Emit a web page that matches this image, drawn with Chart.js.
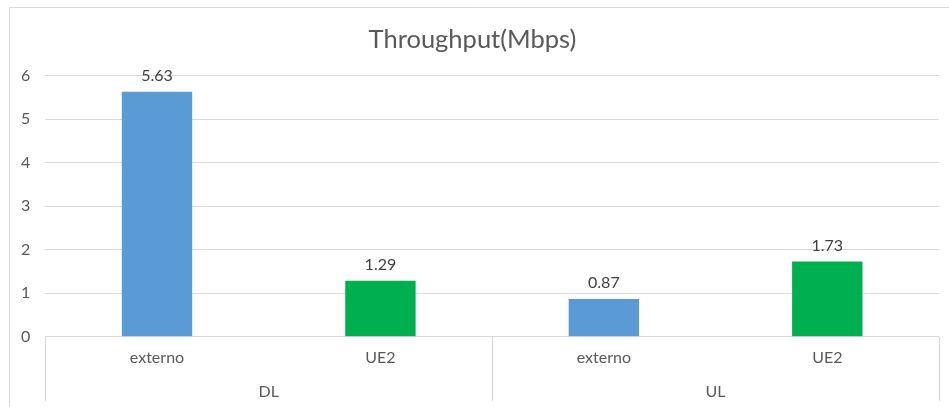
<!DOCTYPE html>
<html>
<head>
<meta charset="utf-8">
<script src="https://cdn.jsdelivr.net/npm/chart.js@4/dist/chart.umd.min.js"></script>
<style>
  html, body { margin: 0; padding: 0; background: #ffffff; }
  #wrap { width: 949px; height: 407px; position: relative; }
</style>
</head>
<body>
<div id="wrap"><canvas id="chart" width="949" height="407"></canvas></div>
<script>
// Throughput per link direction and terminal
const categories = ['externo', 'UE2', 'externo', 'UE2'];
const groups = ['DL', 'UL'];
const throughput = [5.63, 1.29, 0.87, 1.73];
const yTicks = [0, 1, 2, 3, 4, 5, 6];

const FONT = 'Lato, "Open Sans", sans-serif';
const TEXT_GREY = '#595959';
const LINE_GREY = '#D9D9D9';
const LABEL_SIZE = 16;
const terminalColors = { externo: '#5B9BD5', UE2: '#00B050' };

// Outer frame of the chart object
const framePlugin = {
  id: 'frame',
  beforeDraw(chart) {
    const ctx = chart.ctx;
    ctx.save();
    ctx.fillStyle = '#ffffff';
    ctx.fillRect(0, 0, chart.width, chart.height);
    ctx.strokeStyle = LINE_GREY;
    ctx.lineWidth = 1;
    ctx.beginPath();
    ctx.moveTo(9.5, chart.height);
    ctx.lineTo(9.5, 7.5);
    ctx.lineTo(chart.width, 7.5);
    ctx.stroke();
    ctx.restore();
  }
};

// Value labels above each bar
const valueLabelPlugin = {
  id: 'valueLabels',
  afterDatasetsDraw(chart) {
    const ctx = chart.ctx;
    const meta = chart.getDatasetMeta(0);
    ctx.save();
    ctx.font = LABEL_SIZE + 'px ' + FONT;
    ctx.fillStyle = '#404040';
    ctx.textAlign = 'center';
    ctx.textBaseline = 'middle';
    meta.data.forEach((bar, i) => {
      const v = chart.data.datasets[0].data[i];
      ctx.fillText(v.toFixed(2), bar.x, bar.y - 16);
    });
    ctx.restore();
  }
};

// Second category row (DL / UL) with its separators
const groupAxisPlugin = {
  id: 'groupAxis',
  afterDraw(chart) {
    const ctx = chart.ctx;
    const x = chart.scales.x;
    const area = chart.chartArea;
    const band = (x.right - x.left) / categories.length;
    const perGroup = categories.length / groups.length;
    ctx.save();
    ctx.strokeStyle = LINE_GREY;
    ctx.lineWidth = 1;
    ctx.beginPath();
    for (let k = 0; k <= groups.length; k++) {
      const px = Math.round(x.left + k * perGroup * band) + 0.5;
      ctx.moveTo(px, Math.round(area.bottom));
      ctx.lineTo(px, 401);
    }
    ctx.stroke();
    ctx.font = LABEL_SIZE + 'px ' + FONT;
    ctx.fillStyle = TEXT_GREY;
    ctx.textAlign = 'center';
    ctx.textBaseline = 'middle';
    groups.forEach((g, k) => {
      const cx = x.left + (k + 0.5) * perGroup * band;
      ctx.fillText(g, cx, 392);
    });
    ctx.restore();
  }
};

new Chart(document.getElementById('chart'), {
  type: 'bar',
  data: {
    labels: categories,
    datasets: [{
      label: 'Throughput(Mbps)',
      data: throughput,
      backgroundColor: categories.map(c => terminalColors[c]),
      borderWidth: 0,
      barPercentage: 0.315,
      categoryPercentage: 1
    }]
  },
  options: {
    responsive: false,
    animation: false,
    devicePixelRatio: 1,
    layout: { padding: { left: 6, right: 10, top: 0, bottom: 29 } },
    plugins: {
      legend: { display: false },
      tooltip: { enabled: false },
      title: {
        display: true,
        text: 'Throughput(Mbps)',
        color: TEXT_GREY,
        font: { family: FONT, size: 25.5, weight: 'normal' },
        padding: { top: 24, bottom: 21 }
      }
    },
    scales: {
      x: {
        grid: { display: false, drawTicks: false },
        border: { display: false },
        ticks: {
          color: TEXT_GREY,
          font: { family: FONT, size: LABEL_SIZE },
          padding: 11,
          maxRotation: 0
        }
      },
      y: {
        min: yTicks[0],
        max: yTicks[yTicks.length - 1],
        afterBuildTicks(scale) {
          scale.ticks = yTicks.map(v => ({ value: v }));
        },
        grid: { color: LINE_GREY, lineWidth: 1, drawTicks: false },
        border: { display: false },
        ticks: {
          color: TEXT_GREY,
          font: { family: FONT, size: LABEL_SIZE },
          padding: 15
        }
      }
    }
  },
  plugins: [framePlugin, valueLabelPlugin, groupAxisPlugin]
});
</script>
</body>
</html>
